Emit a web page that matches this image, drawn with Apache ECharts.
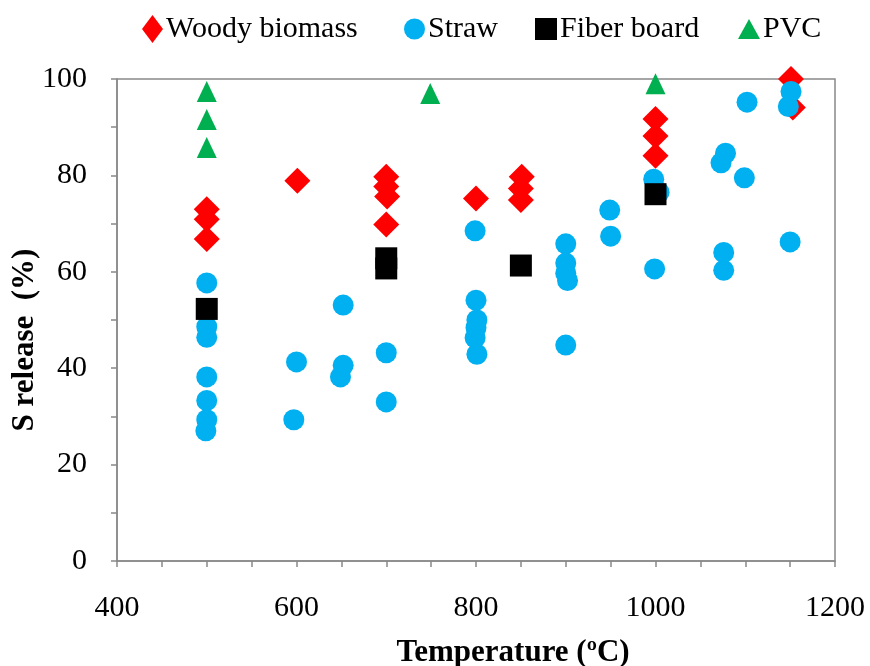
<!DOCTYPE html>
<html>
<head>
<meta charset="utf-8">
<script src="https://cdn.jsdelivr.net/npm/echarts@6/dist/echarts.min.js"></script>
<style>
  html, body { margin: 0; padding: 0; background: #fff; }
  #chart { width: 870px; height: 666px; }
</style>
</head>
<body>
<div id="chart"></div>
<script>
// S release (%) versus temperature (°C) for four fuel types
const woodyBiomass = [
  [500, 73.0], [500, 70.9], [500, 66.8],
  [601, 78.9],
  [700, 79.7], [700, 77.7], [701, 75.6], [700, 69.8],
  [800, 75.2],
  [851, 79.7], [850, 77.3], [850, 74.9],
  [1000, 91.7], [1000, 88.2], [1000, 84.1],
  [1151, 100.0], [1153, 94.1]
];
const straw = [
  [500, 57.7], [500, 48.6], [500, 46.4], [500, 38.2], [500, 33.3], [500, 29.3], [499, 27.0],
  [600, 41.3], [597, 29.3],
  [652, 53.1], [652, 40.6], [649, 38.2],
  [700, 43.2], [700, 33.0],
  [799, 68.5], [800, 54.1], [801, 50.0], [800, 48.4], [799, 46.3], [801, 42.9],
  [900, 65.8], [900, 61.8], [900, 59.7], [902, 58.2], [900, 44.8],
  [949, 72.8], [950, 67.4],
  [998, 79.2], [1004, 76.5], [999, 60.6],
  [1078, 84.6], [1073, 82.6], [1076, 64.0], [1076, 60.3],
  [1102, 95.2], [1099, 79.5],
  [1151, 97.4], [1148, 94.3], [1150, 66.2]
];
const fiberBoard = [
  [500, 52.3], [700, 62.8], [700, 60.7], [850, 61.3], [1000, 76.1]
];
const pvc = [
  [500, 97.4], [500, 91.6], [500, 85.8], [749, 97.0], [1000, 99.0]
];
const seriesNames = ['Woody biomass', 'Straw', 'Fiber board', 'PVC'];
const xTicks = [400, 600, 800, 1000, 1200];
const yTicks = [0, 20, 40, 60, 80, 100];

const serif = "'Liberation Serif', 'Times New Roman', serif";
const axisGray = '#898989';

const chart = echarts.init(document.getElementById('chart'), null, { renderer: 'canvas' });

// one legend block per series so each entry sits at its own spot in the header row
function legendItem(name, left, icon, w, h) {
  return {
    data: [{ name: name, icon: icon }],
    left: left, top: 9,
    itemWidth: w, itemHeight: h, itemGap: 0,
    selectedMode: false,
    textStyle: { fontFamily: serif, fontSize: 30, color: '#000', padding: [0, 0, 0, -2] }
  };
}

chart.setOption({
  animation: false,
  backgroundColor: '#fff',
  legend: [
    legendItem(seriesNames[0], 137, 'diamond', 21, 28),
    legendItem(seriesNames[1], 399, 'circle', 21, 25),
    legendItem(seriesNames[2], 530, 'rect', 22, 22),
    legendItem(seriesNames[3], 733, 'triangle', 22, 20)
  ],
  grid: {
    left: 117, right: 35, top: 79, bottom: 105,
    outerBoundsMode: 'none', containLabel: false,
    show: true, borderColor: axisGray, borderWidth: 1.5, backgroundColor: 'transparent'
  },
  xAxis: {
    type: 'value', min: 400, max: 1200, interval: 50,
    name: 'Temperature (ºC)', nameLocation: 'middle', nameGap: 76,
    nameTextStyle: { fontFamily: serif, fontSize: 31, fontWeight: 'bold', color: '#000', padding: [0, 0, 0, 74] },
    axisLine: { lineStyle: { color: axisGray, width: 1.5 } },
    axisTick: { length: 6, lineStyle: { color: axisGray, width: 1.5 } },
    axisLabel: {
      margin: 32, fontFamily: serif, fontSize: 30, color: '#000',
      formatter: v => xTicks.includes(v) ? String(v) : ''
    },
    splitLine: { show: false }
  },
  yAxis: {
    type: 'value', min: 0, max: 100, interval: 10,
    name: 'S release  (%)', nameLocation: 'middle', nameGap: 77, nameMoveOverlap: false,
    nameTextStyle: { fontFamily: serif, fontSize: 31, fontWeight: 'bold', color: '#000', padding: [0, 40, 0, 0] },
    axisLine: { lineStyle: { color: axisGray, width: 1.5 } },
    axisTick: { length: 6, lineStyle: { color: axisGray, width: 1.5 } },
    axisLabel: {
      margin: 30, fontFamily: serif, fontSize: 30, color: '#000',
      formatter: v => yTicks.includes(v) ? String(v) : ''
    },
    splitLine: { show: false }
  },
  series: [
    { name: seriesNames[0], type: 'scatter', data: woodyBiomass, symbol: 'diamond', symbolSize: 26,
      itemStyle: { color: '#ff0000', opacity: 1 } },
    { name: seriesNames[1], type: 'scatter', data: straw, symbol: 'circle', symbolSize: 21,
      itemStyle: { color: '#00b0f0', opacity: 1 } },
    { name: seriesNames[2], type: 'scatter', data: fiberBoard, symbol: 'rect', symbolSize: 22,
      itemStyle: { color: '#000000', opacity: 1 } },
    { name: seriesNames[3], type: 'scatter', data: pvc, symbol: 'triangle', symbolSize: [20, 21],
      itemStyle: { color: '#00b050', opacity: 1 } }
  ]
});
</script>
</body>
</html>
